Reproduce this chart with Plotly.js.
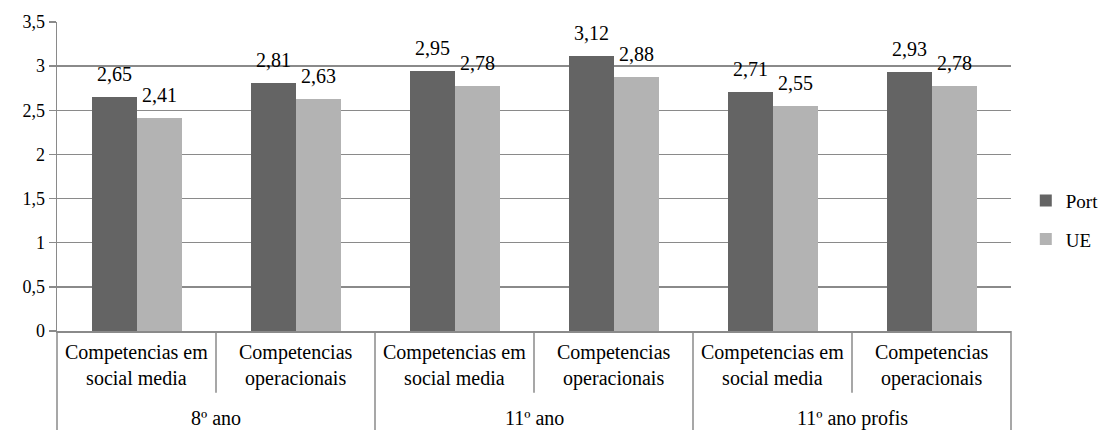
<!DOCTYPE html>
<html>
<head>
<meta charset="utf-8">
<script src="https://cdn.plot.ly/plotly-3.0.1.min.js"></script>
<style>html,body{margin:0;padding:0;background:#fff;}#chart{width:1104px;height:430px;}</style>
</head>
<body>
<div id="chart"></div>
<script>
const groupLabels = ['8º ano', '11º ano', '11º ano profis'];
const subLabels = [
  'Competencias em<br>social media', 'Competencias<br>operacionais',
  'Competencias em<br>social media', 'Competencias<br>operacionais',
  'Competencias em<br>social media', 'Competencias<br>operacionais'
];
const seriesNames = ['Port', 'UE'];
const port = [2.65, 2.81, 2.95, 3.12, 2.71, 2.93];
const ue = [2.41, 2.63, 2.78, 2.88, 2.55, 2.78];

const FONT = 'Liberation Serif, DejaVu Serif, Liberation Sans';
const GRID = '#8a8a8a';
const BW = 0.283;
const xs = port.map((_, i) => i);
const fmt = v => v.toFixed(2).replace('.', ',');

const traces = [
  {type: 'bar', name: seriesNames[0], x: xs, y: port, offset: -BW, width: BW,
   marker: {color: '#646464'}, legendgroup: 'a', hoverinfo: 'skip'},
  {type: 'bar', name: seriesNames[1], x: xs, y: ue, offset: 0, width: BW,
   marker: {color: '#b3b3b3'}, legendgroup: 'b', hoverinfo: 'skip'}
];

const annotations = [];
xs.forEach(i => {
  annotations.push({x: i - BW / 2, y: port[i], xref: 'x', yref: 'y', text: fmt(port[i]),
    showarrow: false, yanchor: 'bottom', yshift: 10, font: {family: FONT, size: 20, color: '#000'}});
  annotations.push({x: i + BW / 2, y: ue[i], xref: 'x', yref: 'y', text: fmt(ue[i]),
    showarrow: false, yanchor: 'bottom', yshift: 10, font: {family: FONT, size: 20, color: '#000'}});
  annotations.push({x: i, y: -0.025, xref: 'x', yref: 'paper', text: subLabels[i],
    showarrow: false, yanchor: 'top', font: {family: FONT, size: 20, color: '#000'}});
});
groupLabels.forEach((g, k) => {
  annotations.push({x: 2 * k + 0.5, y: -0.282, xref: 'x', yref: 'paper', text: g,
    showarrow: false, yanchor: 'middle', font: {family: FONT, size: 20, color: '#000'}});
});

const shapes = [];
const nCat = port.length;
for (let i = 0; i <= nCat; i++) {
  const outer = (i % 2 === 0);
  shapes.push({type: 'line', xref: 'x domain', yref: 'paper', x0: i / nCat, x1: i / nCat,
    y0: 0, y1: outer ? -0.36 : -0.2, line: {color: GRID, width: 1.5}});
}

const layout = {
  width: 1104, height: 430,
  margin: {l: 57, r: 93, t: 22, b: 99, autoexpand: false},
  paper_bgcolor: '#fff', plot_bgcolor: '#fff',
  separators: ',.',
  bargap: 0, barmode: 'group',
  showlegend: true,
  font: {family: FONT, size: 18, color: '#000'},
  xaxis: {range: [-0.5, 5.5], showticklabels: false, ticks: '', showgrid: false,
    zeroline: false, showline: true, linecolor: GRID, linewidth: 1.5, fixedrange: true},
  yaxis: {range: [0, 3.5], dtick: 0.5, tick0: 0, ticks: 'outside', ticklen: 7,
    tickcolor: GRID, tickwidth: 1.5, showline: true, linecolor: GRID, linewidth: 1.5,
    gridcolor: GRID, gridwidth: 1.3, zeroline: false, fixedrange: true,
    tickfont: {family: FONT, size: 18, color: '#000'}},
  legend: {x: 1.0155, xanchor: 'left', y: 0.359, yanchor: 'middle',
    traceorder: 'grouped', tracegroupgap: 11, bgcolor: 'rgba(0,0,0,0)',
    font: {family: FONT, size: 19, color: '#000'}},
  annotations: annotations,
  shapes: shapes,
  hovermode: false
};

Plotly.newPlot('chart', traces, layout, {displayModeBar: false, staticPlot: true});
</script>
</body>
</html>
